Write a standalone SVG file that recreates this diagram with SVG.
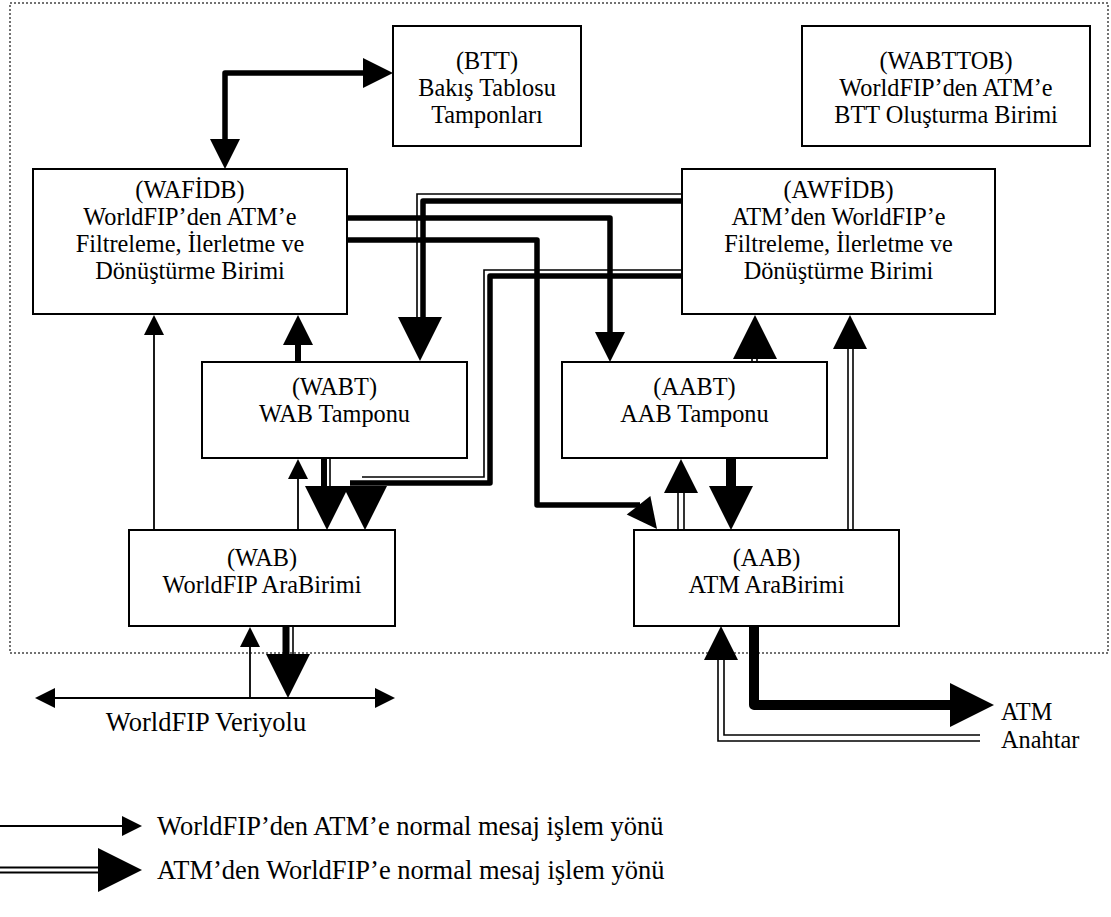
<svg xmlns="http://www.w3.org/2000/svg" xmlns:xlink="http://www.w3.org/1999/xlink" width="1111" height="917" viewBox="0 0 1111 917">
  <style>
    .box { fill: #fff; stroke: #000; stroke-width: 2; }
    .lbl { font-family: "Liberation Serif", "Times New Roman", serif; font-size: 24.3px; fill: #000; text-anchor: middle; }
    .big { font-size: 26.5px; }
    .lft { text-anchor: start; }
    .thin { fill: none; stroke: #000; stroke-width: 1.8; }
    .hair { fill: none; stroke: #000; stroke-width: 1.6; }
    .thick { fill: none; stroke: #000; stroke-width: 5.5; stroke-linejoin: round; }
    .heavy { fill: none; stroke: #000; stroke-width: 10; stroke-linejoin: round; }
    .frame { fill: none; stroke: #444; stroke-width: 1.5; stroke-dasharray: 2 2; }
    .head { fill: #000; }
  </style>
  <defs>
    <!-- arrowheads: tip at the origin, pointing along +x -->
    <polygon id="headS" class="head" points="0,0 -20,-10 -20,10"/>
    <polygon id="headM" class="head" points="0,0 -30,-15 -30,15"/>
    <polygon id="headD" class="head" points="0,0 -34,-17 -34,17"/>
    <polygon id="headL" class="head" points="0,0 -44,-22 -44,22"/>
  </defs>

  <!-- system boundary -->
  <rect class="frame" x="10" y="3" width="1098" height="650"/>

  <g id="BTT">
    <rect class="box" x="393" y="26" width="188" height="120"/>
    <text class="lbl" y="69"><tspan x="487">(BTT)</tspan><tspan x="487" dy="27">Bakış Tablosu</tspan><tspan x="487" dy="27">Tamponları</tspan></text>
  </g>

  <g id="WABTTOB">
    <rect class="box" x="802" y="26" width="288" height="120"/>
    <text class="lbl" y="69"><tspan x="946">(WABTTOB)</tspan><tspan x="946" dy="27">WorldFIP’den ATM’e</tspan><tspan x="946" dy="27">BTT Oluşturma Birimi</tspan></text>
  </g>

  <g id="WAFIDB">
    <rect class="box" x="33" y="169" width="314" height="145"/>
    <text class="lbl" y="198"><tspan x="190">(WAFİDB)</tspan><tspan x="190" dy="27">WorldFIP’den ATM’e</tspan><tspan x="190" dy="27">Filtreleme, İlerletme ve</tspan><tspan x="190" dy="27">Dönüştürme Birimi</tspan></text>
  </g>

  <g id="AWFIDB">
    <rect class="box" x="682" y="169" width="313" height="145"/>
    <text class="lbl" y="198"><tspan x="838.5">(AWFİDB)</tspan><tspan x="838.5" dy="27">ATM’den WorldFIP’e</tspan><tspan x="838.5" dy="27">Filtreleme, İlerletme ve</tspan><tspan x="838.5" dy="27">Dönüştürme Birimi</tspan></text>
  </g>

  <g id="WABT">
    <rect class="box" x="202" y="362" width="265" height="96"/>
    <text class="lbl" y="394.5"><tspan x="334.5">(WABT)</tspan><tspan x="334.5" dy="27">WAB Tamponu</tspan></text>
  </g>

  <g id="AABT">
    <rect class="box" x="562" y="362" width="265" height="96"/>
    <text class="lbl" y="394.5"><tspan x="694.5">(AABT)</tspan><tspan x="694.5" dy="27">AAB Tamponu</tspan></text>
  </g>

  <g id="WAB">
    <rect class="box" x="129" y="530" width="266" height="96"/>
    <text class="lbl" y="565.5"><tspan x="262">(WAB)</tspan><tspan x="262" dy="27">WorldFIP AraBirimi</tspan></text>
  </g>

  <g id="AAB">
    <rect class="box" x="634" y="530" width="265" height="96"/>
    <text class="lbl" y="565.5"><tspan x="766.5">(AAB)</tspan><tspan x="766.5" dy="27">ATM AraBirimi</tspan></text>
  </g>

  <g id="bus-label">
    <text class="lbl big" x="206" y="731">WorldFIP Veriyolu</text>
  </g>

  <g id="switch-label">
    <text class="lbl lft" y="720"><tspan x="1001">ATM</tspan><tspan x="1001" dy="28">Anahtar</tspan></text>
  </g>

  <g id="connectors">
    <!-- WAFİDB <-> BTT -->
    <path class="thick" d="M365 73 H225 V140"/>
    <use xlink:href="#headM" transform="translate(393,73)"/>
    <use xlink:href="#headM" transform="translate(225,169) rotate(90)"/>

    <!-- WABT -> WAFİDB -->
    <path class="thick" d="M298 362 V343" style="stroke-width:6"/>
    <use xlink:href="#headM" transform="translate(298,315) rotate(-90)"/>

    <!-- WAB -> WAFİDB -->
    <path class="thin" d="M154 530 V333"/>
    <use xlink:href="#headS" transform="translate(154,315) rotate(-90)"/>

    <!-- WAB -> WABT -->
    <path class="thin" d="M298 530 V477"/>
    <use xlink:href="#headS" transform="translate(298,459) rotate(-90)"/>

    <!-- WABT -> WAB -->
    <path class="thick" d="M324 458 V488" style="stroke-width:6"/>
    <path class="hair" d="M330 458 V488"/>
    <use xlink:href="#headL" transform="translate(327,530) rotate(90)"/>

    <!-- AWFİDB -> WAB -->
    <path class="thick" d="M682 276 H490 V483 H350"/>
    <path class="hair" d="M682 270 H484 V477 H362"/>
    <use xlink:href="#headL" transform="translate(365,530) rotate(90)"/>

    <!-- WAFİDB -> AABT -->
    <path class="thick" d="M347 218 H610 V334"/>
    <use xlink:href="#headM" transform="translate(610,362) rotate(90)"/>

    <!-- WAFİDB -> AAB -->
    <path class="thick" d="M347 240 H537 V505 H640"/>
    <use xlink:href="#headM" transform="translate(657,529) rotate(52)"/>

    <!-- AWFİDB -> WABT -->
    <path class="thick" d="M682 201 H423 V319"/>
    <path class="hair" d="M682 194 H417 V319"/>
    <use xlink:href="#headL" transform="translate(420,361) rotate(90)"/>

    <!-- AABT -> AWFİDB -->
    <path class="hair" d="M752 362 V356 M757 362 V356"/>
    <use xlink:href="#headL" transform="translate(755,315) rotate(-90)"/>

    <!-- AAB -> AABT -->
    <path class="hair" d="M678 530 V491 M684 530 V491"/>
    <use xlink:href="#headD" transform="translate(681,459) rotate(-90)"/>

    <!-- AABT -> AAB -->
    <path class="heavy" d="M731 458 V488"/>
    <use xlink:href="#headL" transform="translate(731,530) rotate(90)"/>

    <!-- AAB -> AWFİDB -->
    <path class="hair" d="M848 530 V347 M853 530 V347"/>
    <use xlink:href="#headD" transform="translate(850,315) rotate(-90)"/>

    <!-- ATM Anahtar -> AAB -->
    <path class="hair" d="M980 741 H718 V658"/>
    <path class="hair" d="M980 735 H724 V658"/>
    <use xlink:href="#headD" transform="translate(721,626) rotate(-90)"/>

    <!-- AAB -> ATM Anahtar -->
    <path class="heavy" d="M754 626 V705 H952"/>
    <use xlink:href="#headL" transform="translate(994,705)"/>

    <!-- WAB -> WorldFIP Veriyolu -->
    <path class="thick" d="M286 626 V656" style="stroke-width:7"/>
    <path class="hair" d="M293 626 V656"/>
    <use xlink:href="#headL" transform="translate(288,698) rotate(90)"/>

    <!-- WorldFIP Veriyolu -> WAB -->
    <path class="thin" d="M250 698 V645"/>
    <use xlink:href="#headS" transform="translate(250,627) rotate(-90)"/>

    <!-- WorldFIP bus -->
    <path class="thin" d="M53 698 H377"/>
    <use xlink:href="#headS" transform="translate(35,698) rotate(180)"/>
    <use xlink:href="#headS" transform="translate(395,698)"/>
  </g>

  <g id="legend">
    <path class="thin" d="M0 826 H124"/>
    <use xlink:href="#headS" transform="translate(142,826)"/>
    <text class="lbl big lft" x="157" y="835">WorldFIP’den ATM’e normal mesaj işlem yönü</text>

    <path class="thin" d="M0 867.5 H100 M0 872.5 H100" style="stroke-width:2"/>
    <use xlink:href="#headL" transform="translate(142,870)"/>
    <text class="lbl big lft" x="157" y="879">ATM’den WorldFIP’e normal mesaj işlem yönü</text>
  </g>
</svg>
